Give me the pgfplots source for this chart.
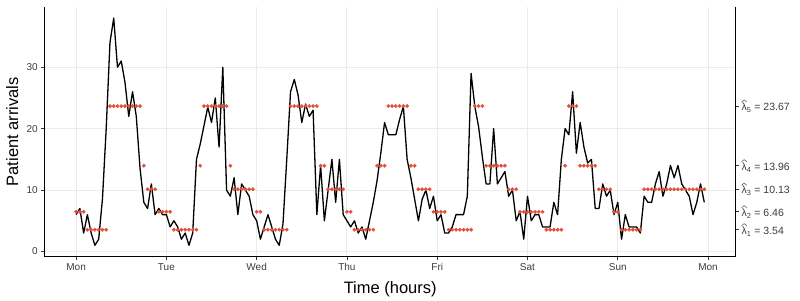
\documentclass[border=0pt]{standalone}
\usepackage{pgfplots}
\pgfplotsset{compat=1.18}
\usepackage{pgfplotstable}
\usepackage{fontspec}
\setmainfont{Liberation Sans}
\definecolor{dotred}{RGB}{224,82,56}
\definecolor{gridgray}{RGB}{235,235,235}
\definecolor{ticktxt}{RGB}{60,60,60}

\pgfplotstableread{
h v lev
0 6 6.46
1 7 6.46
2 3 6.46
3 6 3.54
4 3 3.54
5 1 3.54
6 2 3.54
7 8.5 3.54
8 20 3.54
9 34 23.67
10 38 23.67
11 30 23.67
12 31 23.67
13 27.5 23.67
14 22 23.67
15 26 23.67
16 22 23.67
17 13.5 23.67
18 8 13.96
19 7 10.13
20 11 10.13
21 6 10.13
22 7 6.46
23 6 6.46
24 6 6.46
25 4 6.46
26 5 3.54
27 4 3.54
28 2 3.54
29 3 3.54
30 1 3.54
31 3 3.54
32 15 3.54
33 17.5 13.96
34 20.5 23.67
35 23.5 23.67
36 21 23.67
37 25 23.67
38 17 23.67
39 30 23.67
40 10 23.67
41 9 13.96
42 12 10.13
43 6 10.13
44 11 10.13
45 10 10.13
46 9 10.13
47 6 10.13
48 5 6.46
49 2 6.46
50 4 3.54
51 6 3.54
52 4 3.54
53 2 3.54
54 1 3.54
55 4.5 3.54
56 15 3.54
57 26 23.67
58 28 23.67
59 25.5 23.67
60 21 23.67
61 24 23.67
62 22 23.67
63 23 23.67
64 6 23.67
65 14 13.96
66 5 13.96
67 10 10.13
68 15 10.13
69 8 10.13
70 15 10.13
71 6 10.13
72 5 6.46
73 4 6.46
74 5 3.54
75 3 3.54
76 4 3.54
77 2 3.54
78 5 3.54
79 8 3.54
80 11.5 13.96
81 16 13.96
82 21 13.96
83 19 23.67
84 19 23.67
85 19 23.67
86 21.5 23.67
87 23.6 23.67
88 15 23.67
89 12 13.96
90 8.5 13.96
91 5 10.13
92 8.5 10.13
93 10 10.13
94 7 10.13
95 9 6.46
96 5 6.46
97 6 6.46
98 3 6.46
99 3 3.54
100 4 3.54
101 6 3.54
102 6 3.54
103 6 3.54
104 9 3.54
105 29 3.54
106 23.6 23.67
107 20.3 23.67
108 15.4 23.67
109 11 13.96
110 11 13.96
111 20 13.96
112 11 13.96
113 12 13.96
114 13 13.96
115 9 10.13
116 10 10.13
117 5 10.13
118 6.5 6.46
119 2 6.46
120 9 6.46
121 5 6.46
122 6 6.46
123 6 6.46
124 4 6.46
125 4 3.54
126 4 3.54
127 8 3.54
128 6 3.54
129 15 3.54
130 20 13.96
131 19 23.67
132 26 23.67
133 16 23.67
134 21 13.96
135 17 13.96
136 14.4 13.96
137 15 13.96
138 7 13.96
139 7 10.13
140 11 10.13
141 9 10.13
142 10 10.13
143 6 6.46
144 8 6.46
145 2 3.54
146 6 3.54
147 4 3.54
148 4 3.54
149 4 3.54
150 3 3.54
151 9 10.13
152 8 10.13
153 8 10.13
154 11 10.13
155 13 10.13
156 9 10.13
157 11 10.13
158 14 10.13
159 12 10.13
160 14 10.13
161 11 10.13
162 10 10.13
163 9 10.13
164 6 10.13
165 8 10.13
166 11 10.13
167 8 10.13
}\data

\newcommand{\lh}[2]{\tikz[baseline=(l.base)]{\node[inner sep=0pt, outer sep=0pt, anchor=base] (l) {λ};
  \draw[line width=0.45pt, ticktxt, line join=miter] ([xshift=0.1pt,yshift=1.2pt]l.north west) -- ([yshift=3.2pt]l.north) -- ([xshift=-0.1pt,yshift=1.2pt]l.north east);}\textsubscript{#1} = #2}

\begin{document}
\begin{tikzpicture}
\begin{axis}[
  name=main,
  scale only axis, width=691pt, height=250pt,
  xmin=-8.35, xmax=175.35, ymin=-0.85, ymax=39.85,
  axis x line*=bottom, axis y line*=left,
  axis line style={-, black, line width=0.8pt},
  xtick={0,24,48,72,96,120,144,168},
  xticklabels={Mon,Tue,Wed,Thu,Fri,Sat,Sun,Mon},
  ytick={0,10,20,30},
  grid=major,
  major grid style={gridgray, line width=0.9pt},
  tick align=outside, major tick length=3.5pt,
  tick style={black!80, line width=0.7pt},
  /pgf/number format/assume math mode=true,
  tick label style={font=\fontsize{10}{12}\selectfont, text=ticktxt},
  xlabel={Time (hours)}, ylabel={Patient arrivals},
  label style={font=\fontsize{16.5}{19}\selectfont},
  xlabel style={at={(axis description cs:0.5,-0.129)}, anchor=center},
  ylabel style={at={(axis description cs:-0.047,0.5)}, anchor=center, rotate=0},
]
\addplot[black, line width=1.3pt, line join=round] table[x=h, y=v] {\data};
\addplot[only marks, color=dotred, mark=*, mark size=1.7pt, mark options={draw=none, fill=dotred}] table[x=h, y=lev] {\data};
\end{axis}
\begin{axis}[
  scale only axis, width=691pt, height=250pt,
  xmin=-8.35, xmax=175.35, ymin=-0.85, ymax=39.85,
  axis x line=none, axis y line*=right,
  axis line style={-, black, line width=0.8pt},
  ytick={3.54,6.46,10.13,13.96,23.67},
  yticklabels={\lh{1}{3.54},\lh{2}{6.46},\lh{3}{10.13},\lh{4}{13.96},\lh{5}{23.67}},
  tick align=outside, major tick length=3.5pt,
  tick style={black!80, line width=0.7pt},
  tick label style={font=\fontsize{10.5}{12}\selectfont, text=ticktxt},
  yticklabel style={anchor=west, inner sep=1pt, xshift=1pt},
]
\addplot[draw=none] coordinates {(0,0)};
\end{axis}
\pgfresetboundingbox
\path ([shift={(-44.7pt,-43.3pt)}]main.south west) rectangle ([shift={(64.3pt,6.7pt)}]main.north east);
\end{tikzpicture}
\end{document}
